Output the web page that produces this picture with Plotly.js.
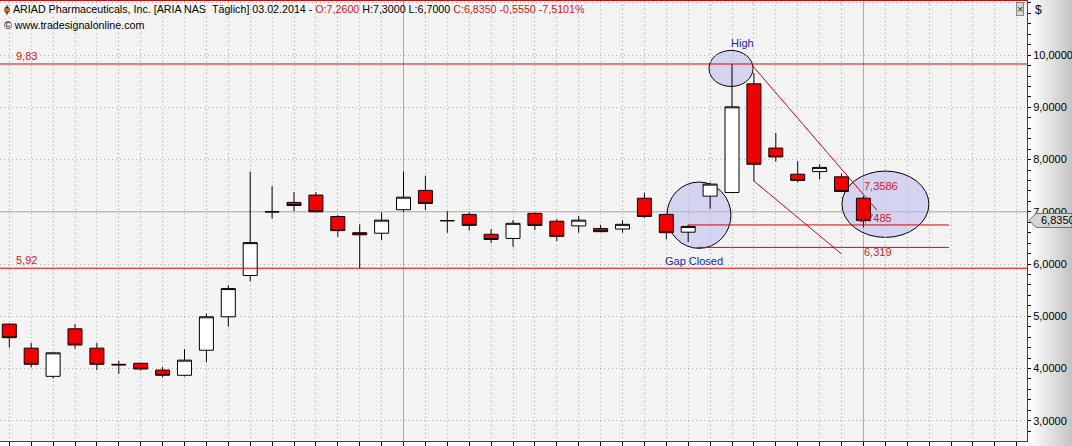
<!DOCTYPE html>
<html>
<head>
<meta charset="utf-8">
<script src="https://cdn.plot.ly/plotly-3.0.1.min.js"></script>
<style>
  html, body { margin:0; padding:0; }
  #wrap { width:1072px; height:446px; background: linear-gradient(to right, #ffffff 0px, #ffffff 1029px, #c4c4c4 1072px); }
  #chart { width:1072px; height:446px; }
</style>
</head>
<body>
<div id="wrap"><div id="chart"></div></div>
<script>
// ---- data ----
const barIndex = Array.from({length: 40}, (_, i) => i);
const opens  = [4.85,4.39,3.85,4.76,4.39,4.08,4.10,3.97,3.87,4.35,4.99,5.78,7.00,7.18,7.32,6.91,6.60,6.59,7.04,7.41,
                6.83,6.95,6.57,6.49,6.97,6.82,6.73,6.68,6.67,7.26,6.95,6.61,7.30,7.37,9.45,8.22,7.72,7.77,7.67,7.26];
const highs  = [4.86,4.49,4.32,4.85,4.49,4.15,4.11,4.03,4.37,5.05,5.59,7.77,7.49,7.38,7.38,6.94,6.76,6.99,7.77,7.69,
                7.01,6.99,6.67,6.84,6.99,6.86,6.92,6.75,6.84,7.37,6.97,6.75,7.56,9.83,9.66,8.51,7.97,7.91,7.73,7.30];
const lows   = [4.40,4.02,3.81,4.38,3.97,3.90,3.96,3.83,3.85,4.12,4.80,5.67,6.87,7.01,7.00,6.52,5.92,6.46,7.00,7.03,
                6.60,6.64,6.40,6.33,6.65,6.44,6.60,6.61,6.60,6.88,6.47,6.42,7.06,7.37,7.59,7.96,7.56,7.62,7.39,6.70];
const closes = [4.59,4.08,4.30,4.45,4.08,4.07,3.99,3.87,4.16,4.99,5.53,6.41,7.00,7.12,7.00,6.64,6.56,6.84,7.28,7.16,
                6.83,6.74,6.47,6.78,6.74,6.53,6.84,6.62,6.76,6.91,6.60,6.72,7.53,9.01,7.91,8.05,7.60,7.85,7.39,6.835];

const supportResistance = [9.83, 5.92];
const supportLabels = ["9,83", "5,92"];
const levelLines = [6.7485, 6.319];
const levelLabels = ["7,3586", "6,7485", "6,319"];
const yTicksLabelFormat = ".4f";
const lastPriceLabel = "6,8350";
const lastPrice = 6.835;
const headerText = "\u03d5 ARIAD Pharmaceuticals, Inc. [ARIA NAS\u00a0\u00a0Täglich] 03.02.2014 - " +
  '<span style="color:#d41414">O:7,2600</span> H:7,3000 L:6,7000 ' +
  '<span style="color:#d41414">C:6,8350 -0,5550 -7,5101%</span>';
const sourceText = "\u00a9 www.tradesignalonline.com";

// ---- layout geometry ----
const W = 1072, H = 446, ML = 0, MR = 45, MT = 1, MB = 5;
const PW = W - ML - MR, PH = H - MT - MB;
const X_RANGE = [-0.4247, 46.47];
const Y_RANGE = [2.612, 11.036];
const pxX = px => (px - ML) / PW;
const pxY = py => (H - MB - py) / PH;
const priceToPaper = p => (p - Y_RANGE[0]) / (Y_RANGE[1] - Y_RANGE[0]);

const RED = '#e00000', RED_TXT = '#d41a1a', BLUE = '#1c1cb4', GREYLINE = '#a9a9a9';
const FONT = 'Liberation Sans, Arial, sans-serif';

const candle = {
  type: 'candlestick',
  x: barIndex, open: opens, high: highs, low: lows, close: closes,
  increasing: {fillcolor: '#ffffff', line: {color: '#000000', width: 1}},
  decreasing: {fillcolor: '#f00000', line: {color: '#1a0000', width: 1}},
  whiskerwidth: 0,
  hoverinfo: 'skip',
  showlegend: false
};

const shapes = [
  // crosshair-like grey solid lines
  {type:'line', xref:'x', yref:'paper', x0:18, x1:18, y0:0, y1:1, line:{color:GREYLINE, width:1}, layer:'below'},
  {type:'line', xref:'x', yref:'paper', x0:39, x1:39, y0:0, y1:1, line:{color:GREYLINE, width:1}, layer:'below'},
  {type:'line', xref:'paper', yref:'y', x0:0, x1:1, y0:7.0, y1:7.0, line:{color:GREYLINE, width:1}, layer:'below'},
  // ellipses
  {type:'circle', xref:'x', yref:'y', x0:31.95, x1:33.96, y0:9.40, y1:10.09, fillcolor:'rgba(185,185,238,0.55)', line:{color:'#000', width:1}, layer:'below'},
  {type:'circle', xref:'x', yref:'y', x0:30.03, x1:32.95, y0:6.30, y1:7.57, fillcolor:'rgba(185,185,238,0.55)', line:{color:'#000', width:1}, layer:'below'},
  {type:'circle', xref:'x', yref:'y', x0:38.02, x1:41.99, y0:6.51, y1:7.78, fillcolor:'rgba(185,185,238,0.55)', line:{color:'#000', width:1}, layer:'below'},
  // support / resistance
  {type:'line', xref:'x', yref:'y', x0:X_RANGE[0], x1:X_RANGE[1], y0:supportResistance[0], y1:supportResistance[0], line:{color:RED, width:1}},
  {type:'line', xref:'x', yref:'y', x0:X_RANGE[0], x1:X_RANGE[1], y0:supportResistance[1], y1:supportResistance[1], line:{color:RED, width:1}},
  // level lines
  {type:'line', xref:'x', yref:'y', x0:31, x1:42.9, y0:levelLines[0], y1:levelLines[0], line:{color:RED, width:1}},
  {type:'line', xref:'x', yref:'y', x0:31.4, x1:42.9, y0:levelLines[1], y1:levelLines[1], line:{color:RED, width:1}},
  // trend lines
  {type:'line', xref:'x', yref:'y', x0:33.93, x1:39.62, y0:9.80, y1:7.03, line:{color:RED, width:1}},
  {type:'line', xref:'x', yref:'y', x0:33.97, x1:37.98, y0:7.60, y1:6.20, line:{color:RED, width:1}},
  // last price marker on axis
  {type:'path', xref:'paper', yref:'paper',
   path: (() => {
     const yc = priceToPaper(lastPrice), dy = 7 / PH;
     return `M ${pxX(1029)} ${yc} L ${pxX(1036)} ${yc+dy} L ${pxX(1072)} ${yc+dy} L ${pxX(1072)} ${yc-dy} L ${pxX(1036)} ${yc-dy} Z`;
   })(),
   fillcolor:'#d6d6d6', line:{color:'#6e6e6e', width:1}}
];

const ann = (o) => Object.assign({showarrow:false, font:{family:FONT, size:11, color:'#000'}}, o);
const annotations = [
  ann({xref:'paper', yref:'paper', x:pxX(2), y:pxY(9), xanchor:'left', yanchor:'middle', text:headerText, font:{family:FONT, size:10.7, color:'#000'}}),
  ann({xref:'paper', yref:'paper', x:pxX(2), y:pxY(25), xanchor:'left', yanchor:'middle', text:sourceText, font:{family:FONT, size:10.7, color:'#000'}}),
  ann({xref:'paper', yref:'y', x:pxX(14), y:supportResistance[0], xanchor:'left', yanchor:'bottom', text:supportLabels[0], font:{family:FONT, size:11, color:RED_TXT}}),
  ann({xref:'paper', yref:'y', x:pxX(14), y:supportResistance[1], xanchor:'left', yanchor:'bottom', text:supportLabels[1], font:{family:FONT, size:11, color:RED_TXT}}),
  ann({xref:'paper', yref:'paper', x:pxX(742.5), y:pxY(43), xanchor:'center', yanchor:'middle', text:'High', font:{family:FONT, size:11, color:BLUE}}),
  ann({xref:'paper', yref:'paper', x:pxX(694), y:pxY(261), xanchor:'center', yanchor:'middle', text:'Gap Closed', font:{family:FONT, size:11, color:BLUE}}),
  ann({xref:'paper', yref:'paper', x:pxX(862), y:pxY(185.5), xanchor:'left', yanchor:'middle', text:levelLabels[0], font:{family:FONT, size:11, color:RED_TXT}}),
  ann({xref:'paper', yref:'paper', x:pxX(856), y:pxY(218), xanchor:'left', yanchor:'middle', text:levelLabels[1], font:{family:FONT, size:11, color:RED_TXT}}),
  ann({xref:'paper', yref:'paper', x:pxX(862), y:pxY(252.5), xanchor:'left', yanchor:'middle', text:levelLabels[2], font:{family:FONT, size:11, color:RED_TXT}}),
  ann({xref:'paper', yref:'paper', x:pxX(1033), y:pxY(10), xanchor:'left', yanchor:'middle', text:'$', font:{family:FONT, size:12, color:'#000'}}),
  ann({xref:'paper', yref:'paper', x:pxX(1020), y:pxY(8.5), xanchor:'center', yanchor:'middle', text:'\u00d7', font:{family:FONT, size:11, color:'#333'}, bgcolor:'#d8d8d8', bordercolor:'#8a8a8a', borderwidth:1, borderpad:0}),
  ann({xref:'paper', yref:'paper', x:pxX(1039), y:priceToPaper(lastPrice), xanchor:'left', yanchor:'middle', text:lastPriceLabel, font:{family:FONT, size:11, color:'#000'}})
];

const layout = {
  width: W, height: H,
  margin: {l: ML, r: MR, t: MT, b: MB, pad: 0},
  paper_bgcolor: 'rgba(0,0,0,0)',
  plot_bgcolor: '#f4f4f4',
  separators: ',.',
  showlegend: false,
  hovermode: false,
  boxgap: 0.36, boxgroupgap: 0,
  xaxis: {
    range: X_RANGE, fixedrange: true, rangeslider: {visible: false},
    showgrid: true, gridcolor: '#b4b4b4', griddash: '1px,3px', gridwidth: 1,
    zeroline: false, tick0: 0, dtick: 1, ticks: 'outside', ticklen: 5, tickcolor: '#000', tickwidth: 1,
    showticklabels: false, showline: true, linecolor: '#c01010', linewidth: 1, mirror: true, automargin: false
  },
  yaxis: {
    range: Y_RANGE, fixedrange: true, side: 'right',
    showgrid: true, gridcolor: '#b4b4b4', griddash: '1px,3px', gridwidth: 1,
    zeroline: false, tick0: 0, dtick: 1, tickformat: yTicksLabelFormat,
    ticks: 'outside', ticklen: 3, tickcolor: '#000', tickwidth: 1,
    minor: {dtick: 0.2, ticks: 'outside', ticklen: 3, tickcolor: '#000', showgrid: false},
    tickfont: {family: FONT, size: 11, color: '#000'},
    showline: true, linecolor: '#c01010', linewidth: 1, mirror: true, automargin: false
  },
  shapes: shapes,
  annotations: annotations
};

Plotly.newPlot('chart', [candle], layout, {displayModeBar: false, staticPlot: true});
</script>
</body>
</html>
